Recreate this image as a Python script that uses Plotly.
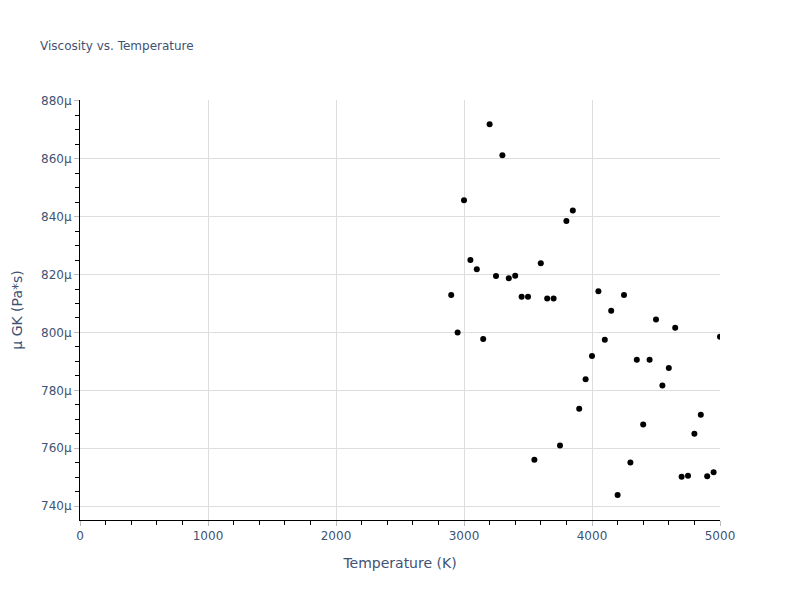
import plotly.graph_objects as go

temperature_K = [2900, 2950, 3000, 3050, 3100, 3150, 3200, 3250, 3300, 3350, 3400,
                 3450, 3500, 3550, 3600, 3650, 3700, 3750, 3800, 3850, 3900, 3950,
                 4000, 4050, 4100, 4150, 4200, 4250, 4300, 4350, 4400, 4450, 4500,
                 4550, 4600, 4650, 4700, 4750, 4800, 4850, 4900, 4950, 5000]
viscosity_uPas = [812.9, 800.0, 845.7, 825.0, 821.8, 797.7, 871.9, 819.5, 861.2, 818.7, 819.6,
                  812.3, 812.3, 756.0, 823.9, 811.7, 811.7, 760.9, 838.5, 842.1, 773.6, 783.8,
                  791.9, 814.2, 797.5, 807.5, 743.8, 812.9, 755.1, 790.6, 768.2, 790.6, 804.5,
                  781.7, 787.7, 801.6, 750.1, 750.5, 765.0, 771.6, 750.3, 751.7, 798.5]
viscosity = [v * 1e-6 for v in viscosity_uPas]

FONT = "Verdana, 'DejaVu Sans', sans-serif"
TXT = "#3f5273"

fig = go.Figure()
fig.add_trace(go.Scatter(x=temperature_K, y=viscosity, mode="markers",
                         marker=dict(color="black", size=6)))

fig.update_layout(
    width=800, height=600,
    template="plotly_white",
    font=dict(family=FONT, color=TXT),
    title=dict(text="Viscosity vs. Temperature", font=dict(size=12, color=TXT, family=FONT)),
    paper_bgcolor="white", plot_bgcolor="white",
    margin=dict(l=80, r=80, t=100, b=80),
    showlegend=False,
)
axis_common = dict(
    showline=True, linecolor="black", linewidth=1,
    ticks="outside", tickcolor="#bbbbbb", ticklen=5,
    gridcolor="#dddddd", zeroline=False,
    tickfont=dict(size=12, color=TXT, family=FONT),
    title_font=dict(size=14, color=TXT, family=FONT),
)
fig.update_xaxes(title_text="Temperature (K)", range=[0, 5000], dtick=1000,
                 minor=dict(ticks="outside", dtick=200, ticklen=4, tickcolor="black", showgrid=False),
                 **axis_common)
fig.update_yaxes(title_text="μ GK (Pa*s)", range=[735.2e-6, 880.3e-6], dtick=20e-6,
                 minor=dict(ticks="outside", dtick=5e-6, ticklen=4, tickcolor="black", showgrid=False),
                 **axis_common)

fig.write_html("out.html", config={"displayModeBar": False},
               post_script="document.body.style.margin='0px';")
